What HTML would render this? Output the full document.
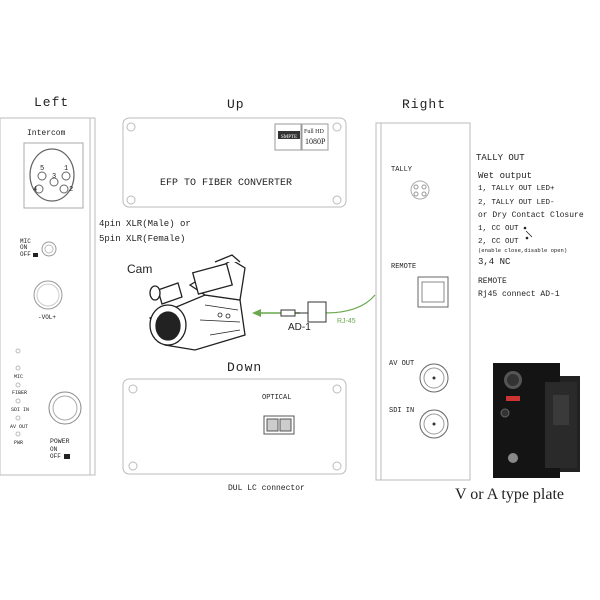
<!DOCTYPE html>
<html><head><meta charset="utf-8"><style>
body{margin:0;background:#fff;}
svg{display:block}
text{font-family:"Liberation Mono","DejaVu Sans Mono",monospace;fill:#222}
.s{font-family:"Liberation Sans",sans-serif}
.r{font-family:"Liberation Serif",serif}
</style></head><body>
<svg width="600" height="600" viewBox="0 0 600 600" xmlns="http://www.w3.org/2000/svg">
<rect width="600" height="600" fill="#fff"/>
<text x="34" y="106" font-size="13" letter-spacing="1">Left</text>
<text x="227" y="108" font-size="13" letter-spacing="1">Up</text>
<text x="402" y="108" font-size="13" letter-spacing="1">Right</text>
<text x="227" y="371" font-size="13" letter-spacing="1">Down</text>

<!-- Left panel -->
<rect x="0" y="118" width="95" height="357" fill="#fff" stroke="#bbb"/>
<line x1="90" y1="118" x2="90" y2="475" stroke="#bbb"/>
<text x="27" y="135" font-size="8">Intercom</text>
<rect x="24" y="143" width="59" height="65" fill="none" stroke="#aaa"/>
<ellipse cx="52" cy="175" rx="22" ry="26" fill="none" stroke="#666" stroke-width="1.2"/>
<g fill="none" stroke="#666"><circle cx="42" cy="176" r="4"/><circle cx="66" cy="176" r="4"/><circle cx="54" cy="182" r="4"/><circle cx="39" cy="189" r="4"/><circle cx="64" cy="189" r="4"/></g>
<g font-size="7" class="r"><text x="40" y="170">5</text><text x="64" y="170">1</text><text x="33" y="191">4</text><text x="52" y="178">3</text><text x="69" y="191">2</text></g>
<text x="20" y="243" font-size="6">MIC</text><text x="20" y="249" font-size="6">ON</text><text x="20" y="256" font-size="6">OFF</text>
<rect x="33" y="253" width="5" height="4" fill="#222"/>
<circle cx="49" cy="249" r="7" fill="none" stroke="#999"/><circle cx="49" cy="249" r="4" fill="none" stroke="#bbb"/>
<circle cx="48" cy="295" r="14" fill="none" stroke="#999"/><circle cx="48" cy="295" r="11" fill="none" stroke="#ccc"/>
<text x="38" y="319" font-size="6">-VOL+</text>
<g fill="none" stroke="#bbb"><circle cx="18" cy="351" r="2"/><circle cx="18" cy="368" r="2"/><circle cx="18" cy="385" r="2"/><circle cx="18" cy="401" r="2"/><circle cx="18" cy="418" r="2"/><circle cx="18" cy="434" r="2"/></g>
<g font-size="5"><text x="14" y="378">MIC</text><text x="12" y="394">FIBER</text><text x="11" y="411">SDI IN</text><text x="10" y="428">AV OUT</text><text x="14" y="444">PWR</text></g>
<circle cx="65" cy="408" r="16" fill="none" stroke="#888"/><circle cx="65" cy="408" r="12" fill="none" stroke="#aaa"/>
<text x="50" y="443" font-size="6.5">POWER</text><text x="50" y="451" font-size="6">ON</text><text x="50" y="458" font-size="6">OFF</text>
<rect x="64" y="454" width="6" height="5" fill="#222"/>

<!-- Up box -->
<rect x="123" y="118" width="223" height="89" rx="6" fill="#fff" stroke="#bbb"/>
<g fill="none" stroke="#bbb"><circle cx="131" cy="127" r="4"/><circle cx="337" cy="127" r="4"/><circle cx="131" cy="200" r="4"/><circle cx="337" cy="200" r="4"/></g>
<rect x="275" y="124" width="26" height="26" fill="#fff" stroke="#999"/><rect x="278" y="131" width="22" height="8" fill="#333"/>
<text x="281" y="138" font-size="5" style="fill:#fff" class="r">SMPTE</text>
<rect x="302" y="124" width="26" height="26" fill="#fff" stroke="#999"/>
<text x="304" y="133" font-size="6" class="r">Full HD</text><text x="305" y="144" font-size="8" class="r">1080P</text>
<text x="160" y="185" font-size="10">EFP TO FIBER CONVERTER</text>
<text x="99" y="226" font-size="9">4pin XLR(Male) or</text>
<text x="99" y="241" font-size="9">5pin XLR(Female)</text>

<!-- camera -->
<text x="127" y="273" font-size="12" class="s">Cam</text>
<g stroke="#222" stroke-width="1.3" fill="#fff">
<path d="M150 318 L205 295 L240 300 L245 335 L195 350 L165 345 Z"/>
<path d="M190 285 L232 260 L245 268 L240 300 L205 295 Z"/>
<rect x="195" y="268" width="35" height="22" transform="rotate(-15 212 279)"/>
<path d="M215 262 L232 255 L240 262"/>
<ellipse cx="168" cy="325" rx="18" ry="20"/>
<ellipse cx="168" cy="326" rx="12" ry="14" fill="#222"/>
<path d="M158 290 L178 283 L182 297 L162 304 Z"/>
<ellipse cx="155" cy="293" rx="5" ry="7"/>
<path d="M205 305 L238 310 M200 320 L240 322 M210 335 L240 330" fill="none" stroke-width="0.8"/>
<circle cx="220" cy="315" r="2" fill="none" stroke-width="0.8"/><circle cx="228" cy="316" r="2" fill="none" stroke-width="0.8"/>
</g>
<!-- green cable -->
<line x1="258" y1="313" x2="300" y2="313" stroke="#6aa84f" stroke-width="1.5"/>
<path d="M252 313 L261 309 L261 317 Z" fill="#6aa84f"/>
<path d="M325 313 Q360 313 375 295" stroke="#6aa84f" stroke-width="1.2" fill="none"/>
<rect x="281" y="310" width="14" height="6" fill="#fff" stroke="#333"/>
<rect x="308" y="302" width="18" height="20" fill="#fff" stroke="#333"/>
<line x1="295" y1="313" x2="308" y2="313" stroke="#333"/>
<text x="288" y="330" font-size="10" class="s">AD-1</text>
<text x="337" y="323" font-size="7" class="s" style="fill:#6aa84f">RJ-45</text>

<!-- Down box -->
<rect x="123" y="379" width="223" height="95" rx="6" fill="#fff" stroke="#bbb"/>
<g fill="none" stroke="#bbb"><circle cx="133" cy="389" r="4"/><circle cx="337" cy="389" r="4"/><circle cx="133" cy="466" r="4"/><circle cx="337" cy="466" r="4"/></g>
<text x="262" y="399" font-size="7">OPTICAL</text>
<rect x="264" y="416" width="30" height="18" fill="#fff" stroke="#555"/>
<rect x="267" y="419" width="11" height="12" fill="#ccc" stroke="#555"/><rect x="280" y="419" width="11" height="12" fill="#ccc" stroke="#555"/>
<text x="228" y="490" font-size="8">DUL LC connector</text>

<!-- Right panel -->
<rect x="376" y="123" width="94" height="357" fill="#fff" stroke="#bbb"/>
<line x1="381" y1="123" x2="381" y2="480" stroke="#bbb"/>
<text x="391" y="171" font-size="7">TALLY</text>
<circle cx="420" cy="190" r="9" fill="none" stroke="#aaa"/>
<g fill="none" stroke="#999"><circle cx="416" cy="187" r="2"/><circle cx="424" cy="187" r="2"/><circle cx="416" cy="194" r="2"/><circle cx="424" cy="194" r="2"/></g>
<text x="391" y="268" font-size="7">REMOTE</text>
<rect x="418" y="277" width="30" height="30" fill="#fff" stroke="#666"/>
<rect x="422" y="282" width="22" height="20" fill="none" stroke="#888"/>
<text x="389" y="365" font-size="7">AV OUT</text>
<circle cx="434" cy="378" r="14" fill="none" stroke="#666"/><circle cx="434" cy="378" r="10" fill="none" stroke="#999"/><circle cx="434" cy="378" r="1.5" fill="#333"/>
<text x="389" y="412" font-size="7">SDI IN</text>
<circle cx="434" cy="424" r="14" fill="none" stroke="#666"/><circle cx="434" cy="424" r="10" fill="none" stroke="#999"/><circle cx="434" cy="424" r="1.5" fill="#333"/>

<!-- tally text -->
<text x="476" y="160" font-size="9">TALLY OUT</text>
<text x="478" y="178" font-size="9">Wet output</text>
<text x="478" y="190" font-size="7.5">1, TALLY OUT LED+</text>
<text x="478" y="204" font-size="7.5">2, TALLY OUT LED-</text>
<text x="478" y="217" font-size="8">or Dry Contact Closure</text>
<text x="478" y="230" font-size="7.5">1, CC OUT</text>
<text x="478" y="243" font-size="7.5">2, CC OUT</text>
<circle cx="525" cy="228" r="1.3" fill="#222"/><circle cx="527" cy="238" r="1.3" fill="#222"/>
<line x1="526" y1="231" x2="532" y2="237" stroke="#222" stroke-width="0.8"/>
<text x="478" y="252" font-size="5.5">(enable close,disable open)</text>
<text x="478" y="264" font-size="9">3,4 NC</text>
<text x="478" y="283" font-size="8">REMOTE</text>
<text x="478" y="296" font-size="8">Rj45 connect AD-1</text>

<!-- device -->
<rect x="556" y="376" width="24" height="96" fill="#222"/>
<rect x="493" y="363" width="67" height="115" fill="#141414"/>
<rect x="545" y="382" width="32" height="86" fill="#2a2a2a"/>
<rect x="553" y="395" width="16" height="30" fill="#3a3a3a"/>
<circle cx="513" cy="380" r="9" fill="#555"/><circle cx="513" cy="380" r="6" fill="#333"/>
<rect x="506" y="396" width="14" height="5" fill="#c33"/>
<circle cx="505" cy="413" r="4" fill="#333" stroke="#666"/>
<circle cx="513" cy="458" r="5" fill="#888"/>
<text x="455" y="499" font-size="16" class="r">V  or  A  type plate</text>
</svg>
</body></html>
